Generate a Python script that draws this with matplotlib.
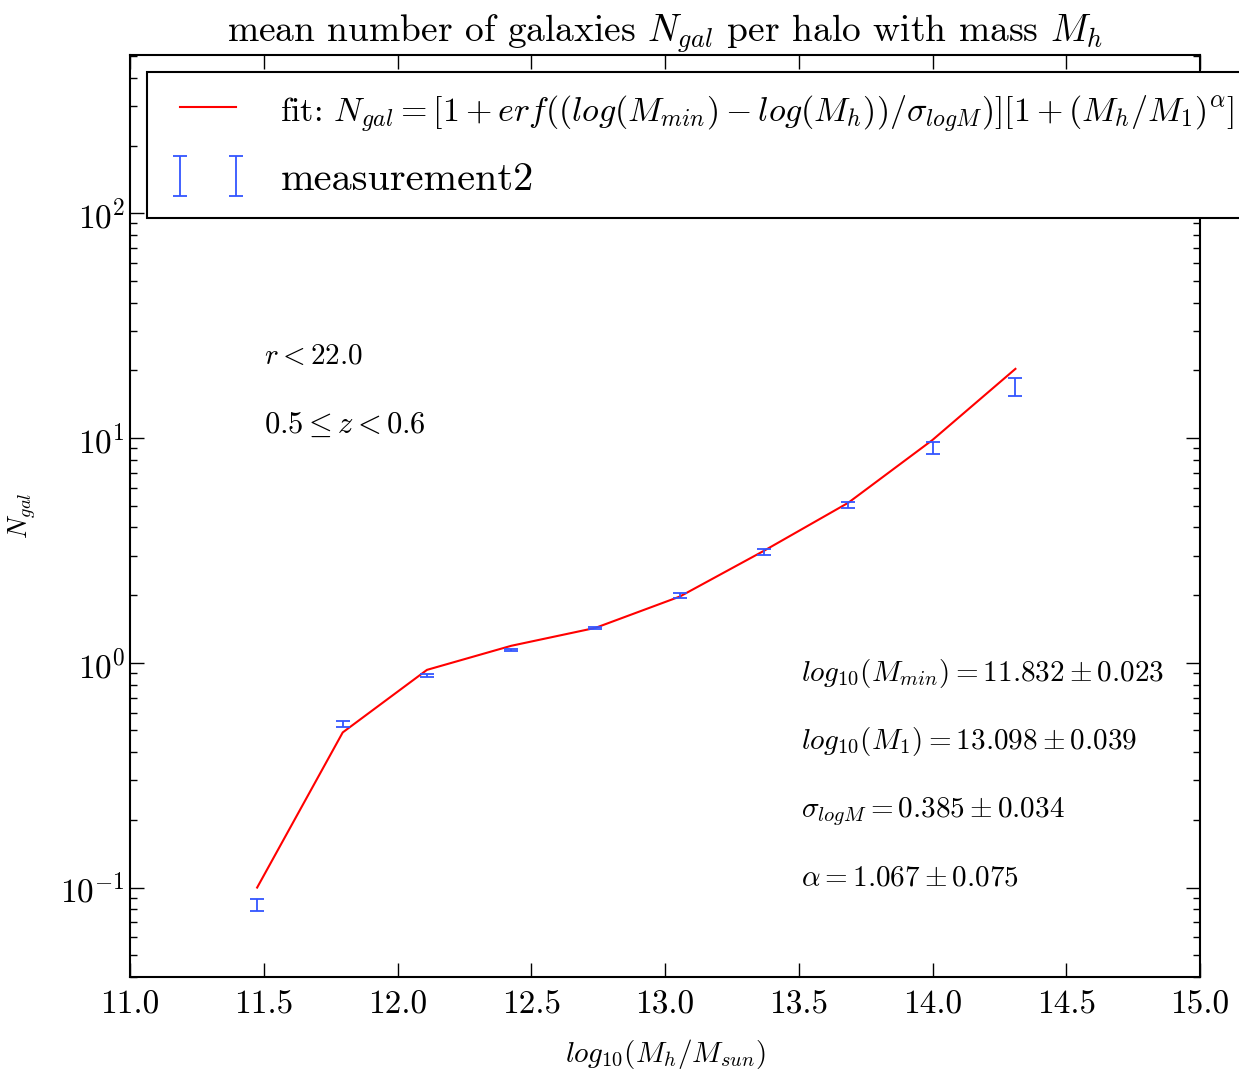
import numpy as np
import matplotlib
matplotlib.use("Agg")
import matplotlib.pyplot as plt

plt.rcParams['font.family'] = 'serif'
plt.rcParams['font.serif'] = ['cmr10', 'DejaVu Serif']
plt.rcParams['mathtext.fontset'] = 'cm'
plt.rcParams['axes.formatter.use_mathtext'] = True
plt.rcParams['axes.unicode_minus'] = False

# measurement points
log_mh = [11.475, 11.795, 12.11, 12.425, 12.74, 13.055, 13.37, 13.685, 14.0, 14.31]
n_meas = [0.0838, 0.535, 0.875, 1.14, 1.43, 2.0, 3.12, 5.05, 9.06, 16.9]
n_err = [0.005, 0.016, 0.013, 0.017, 0.02, 0.05, 0.1, 0.15, 0.55, 1.6]

# fitted model evaluated at the same masses
n_fit = [0.1, 0.49, 0.93, 1.19, 1.43, 1.97, 3.15, 5.15, 9.8, 20.3]

params = [r'$log_{10}(M_{min})=11.832\pm0.023$',
          r'$log_{10}(M_1)=13.098\pm0.039$',
          r'$\sigma_{logM}=0.385\pm0.034$',
          r'$\alpha=1.067\pm0.075$']

fig = plt.figure(figsize=(12.39, 10.72), dpi=100)
ax = fig.add_axes([0.105, 0.0886, 0.8635, 0.86])

ax.plot(log_mh, n_fit, color='red', lw=1.5,
        label=r'fit: $N_{gal}=[1+erf((log(M_{min})-log(M_h))/\sigma_{logM})][1+(M_h/M_1)^{\alpha}]$')
ax.errorbar(log_mh, n_meas, yerr=n_err, fmt='none', ecolor='#3355ff', elinewidth=1.3,
            capsize=5, capthick=1.3, label='measurement2')

ax.set_yscale('log')
ax.set_xlim(11.0, 15.0)
ax.set_ylim(0.04, 505)
ax.set_xticks(np.arange(11.0, 15.01, 0.5))
ax.set_xticklabels(['%.1f' % v for v in np.arange(11.0, 15.01, 0.5)])
ax.tick_params(which='both', direction='in', top=True, right=True, labelsize=24)
ax.tick_params(which='major', length=10, width=1)
ax.tick_params(which='minor', length=5, width=1)
ax.tick_params(axis='x', pad=10)
for s in ax.spines.values():
    s.set_linewidth(1.5)

ax.set_title(r'mean number of galaxies $N_{gal}$ per halo with mass $M_h$', fontsize=27, pad=10)
ax.set_xlabel(r'$log_{10}(M_h/M_{sun})$', fontsize=21, labelpad=12)
ax.set_ylabel(r'$N_{gal}$', fontsize=19, labelpad=16)

ax.text(0.125, 0.665, r'$r<22.0$', transform=ax.transAxes, fontsize=21)
ax.text(0.125, 0.59, r'$0.5\leq z<0.6$', transform=ax.transAxes, fontsize=22)
for i, p in enumerate(params):
    ax.text(0.627, 0.3215 - i * 0.074, p, transform=ax.transAxes, fontsize=21)

leg = ax.legend(loc='upper left', bbox_to_anchor=(0.0, 1.0), borderaxespad=0.43,
                fontsize=29, numpoints=2, fancybox=False, framealpha=1,
                handlelength=2.0, borderpad=0.5, labelspacing=0.7)
leg.get_texts()[0].set_fontsize(24.5)
leg.get_frame().set_edgecolor('black')
leg.get_frame().set_linewidth(1.5)

fig.savefig('out.png', dpi=100)
